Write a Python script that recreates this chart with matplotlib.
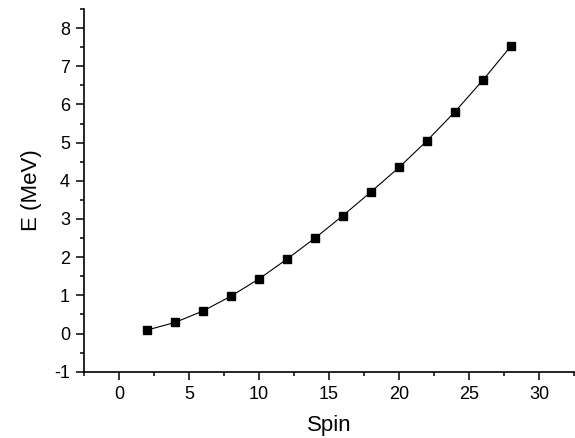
import matplotlib
matplotlib.use("Agg")
import matplotlib.pyplot as plt
from matplotlib.ticker import MultipleLocator

spin = [2, 4, 6, 8, 10, 12, 14, 16, 18, 20, 22, 24, 26, 28]
energy = [0.09, 0.29, 0.59, 0.98, 1.43, 1.95, 2.50, 3.09, 3.71, 4.35, 5.05, 5.81, 6.64, 7.53]

plt.rcParams['font.family'] = ['Liberation Sans', 'DejaVu Sans']
plt.rcParams['axes.unicode_minus'] = False

fig = plt.figure(figsize=(5.75, 4.38), dpi=100)
ax = fig.add_axes([84/575, 1-371.7/438, (574-84)/575, (371.7-9)/438])

ax.plot(spin, energy, color='black', lw=0.8, marker='s', markersize=5.2,
        markerfacecolor='black', markeredgecolor='black')

ax.set_xlim(-2.5, 32.5)
ax.set_ylim(-1, 8.5)
ax.xaxis.set_major_locator(MultipleLocator(5))
ax.xaxis.set_minor_locator(MultipleLocator(2.5))
ax.yaxis.set_major_locator(MultipleLocator(1))
ax.yaxis.set_minor_locator(MultipleLocator(0.5))

for s in ['top', 'right']:
    ax.spines[s].set_visible(False)
for s in ['left', 'bottom']:
    ax.spines[s].set_linewidth(1.2)

ax.tick_params(which='major', direction='out', length=6, width=1.1, labelsize=13, pad=4)
ax.tick_params(which='minor', direction='out', length=3, width=1.1)

ax.set_xlabel('Spin', fontsize=16, labelpad=9)
ax.set_ylabel('E (MeV)', fontsize=16, labelpad=9)

fig.savefig('out.png', dpi=100)
